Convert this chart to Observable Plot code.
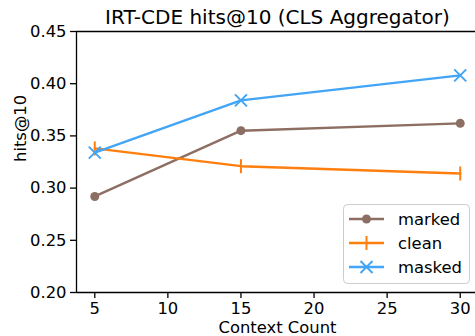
<!DOCTYPE html>
<html><head><meta charset="utf-8">
<script src="https://cdn.jsdelivr.net/npm/d3@7"></script>
<script src="https://cdn.jsdelivr.net/npm/@observablehq/plot@0.6"></script>
<style>
body{margin:0;background:#fff}
#chart{position:relative;width:475px;height:336px;overflow:hidden;background:#fff}
#chart svg{overflow:hidden}
</style>
</head><body><div id="chart"></div>
<script>
const contextCounts = [5, 15, 30];
const seriesNames = ["marked", "clean", "masked"];
const markedHits = [0.292, 0.355, 0.362];
const cleanHits = [0.338, 0.321, 0.314];
const maskedHits = [0.334, 0.384, 0.408];
const seriesColors = ["#8d6e63", "#ff7f0e", "#42a5f5"];
const xTicks = [5, 10, 15, 20, 25, 30];
const yTicks = [0.20, 0.25, 0.30, 0.35, 0.40, 0.45];
const titleText = "IRT-CDE hits@10 (CLS Aggregator)";
const xLabel = "Context Count";
const yLabel = "hits@10";

const seriesValues = [markedHits, cleanHits, maskedHits];
const rows = [];
seriesNames.forEach((s, i) => contextCounts.forEach((c, j) => rows.push({series: s, count: c, hits: seriesValues[i][j]})));

const xSpan = d3.max(contextCounts) - d3.min(contextCounts);
const xDomain = [d3.min(contextCounts) - 0.05 * xSpan, d3.max(contextCounts) + 0.05 * xSpan];
const yDomain = [d3.min(yTicks), d3.max(yTicks)];

// custom marker symbols
const vbarSymbol = {draw(ctx, size) { const r = Math.sqrt(size / Math.PI); ctx.moveTo(0, -r); ctx.lineTo(0, r); }};
const xSymbol = {draw(ctx, size) { const r = Math.sqrt(size / Math.PI); ctx.moveTo(-r, -r); ctx.lineTo(r, r); ctx.moveTo(-r, r); ctx.lineTo(r, -r); }};
const dotSymbol = {draw(ctx, size) { const r = Math.sqrt(size / Math.PI); ctx.moveTo(r, 0); ctx.arc(0, 0, r, 0, 2 * Math.PI); }};

const W = 475, H = 336, mL = 76, mR = -3, mT = 31, mB = 44;
const FS = 16.4;

const plot = Plot.plot({
  width: W, height: H,
  marginLeft: mL, marginRight: mR, marginTop: mT, marginBottom: mB,
  style: {fontFamily: "DejaVu Sans", fontSize: FS + "px", color: "black", background: "white"},
  x: {domain: xDomain, ticks: xTicks},
  y: {domain: yDomain, ticks: yTicks},
  marks: [
    Plot.ruleY([yDomain[1]], {stroke: "black", strokeWidth: 1.3}),
    Plot.ruleY([yDomain[0]], {stroke: "black", strokeWidth: 1.3}),
    Plot.ruleX([xDomain[0]], {stroke: "black", strokeWidth: 1.3}),
    Plot.axisX({ticks: xTicks, tickSize: 6, tickPadding: 4, label: null, stroke: "black", strokeWidth: 1.3, fontSize: FS}),
    Plot.axisY({ticks: yTicks, tickSize: 6, tickPadding: 4, label: null, tickFormat: d3.format(".2f"), stroke: "black", strokeWidth: 1.3, fontSize: FS}),
    ...seriesNames.map((s, i) => Plot.line(rows.filter(d => d.series === s), {x: "count", y: "hits", stroke: seriesColors[i], strokeWidth: 2.4})),
    Plot.dot(rows.filter(d => d.series === "marked"), {x: "count", y: "hits", symbol: dotSymbol, r: 4.5, fill: seriesColors[0], stroke: "none"}),
    Plot.dot(rows.filter(d => d.series === "clean"), {x: "count", y: "hits", symbol: vbarSymbol, r: 7, fill: "none", stroke: seriesColors[1], strokeWidth: 2}),
    Plot.dot(rows.filter(d => d.series === "masked"), {x: "count", y: "hits", symbol: xSymbol, r: 6, fill: "none", stroke: seriesColors[2], strokeWidth: 2}),
    Plot.text([titleText], {frameAnchor: "top", dy: -8, lineAnchor: "bottom", fontSize: 20, fill: "black"}),
    Plot.text([xLabel], {frameAnchor: "bottom", dy: 35, lineAnchor: "middle", fontSize: FS, fill: "black"}),
    Plot.text([yLabel], {frameAnchor: "left", dx: -56, rotate: -90, lineAnchor: "middle", fontSize: FS, fill: "black"})
  ]
});

const svg = d3.select(plot);
// legend
const lg = svg.append("g").attr("font-family", "DejaVu Sans").attr("font-size", FS).attr("text-anchor", "start");
lg.append("rect").attr("x", 343.5).attr("y", 204.5).attr("width", 126).attr("height", 79).attr("rx", 4)
  .attr("fill", "white").attr("fill-opacity", 0.8).attr("stroke", "#cccccc").attr("stroke-width", 1);
const rowY = [219, 243, 267];
seriesNames.forEach((s, i) => {
  const y = rowY[i], c = seriesColors[i];
  lg.append("line").attr("x1", 349).attr("x2", 384).attr("y1", y).attr("y2", y).attr("stroke", c).attr("stroke-width", 2.4);
  if (s === "marked") lg.append("circle").attr("cx", 366.5).attr("cy", y).attr("r", 4.5).attr("fill", c);
  if (s === "clean") lg.append("line").attr("x1", 366.5).attr("x2", 366.5).attr("y1", y - 7).attr("y2", y + 7).attr("stroke", c).attr("stroke-width", 2);
  if (s === "masked") lg.append("path").attr("d", `M${366.5-6},${y-6}L${366.5+6},${y+6}M${366.5-6},${y+6}L${366.5+6},${y-6}`).attr("stroke", c).attr("stroke-width", 2).attr("fill", "none");
  lg.append("text").attr("x", 398).attr("y", y).attr("dy", "0.35em").attr("fill", "black").text(s);
});

document.getElementById("chart").appendChild(plot);
</script>
</body></html>
